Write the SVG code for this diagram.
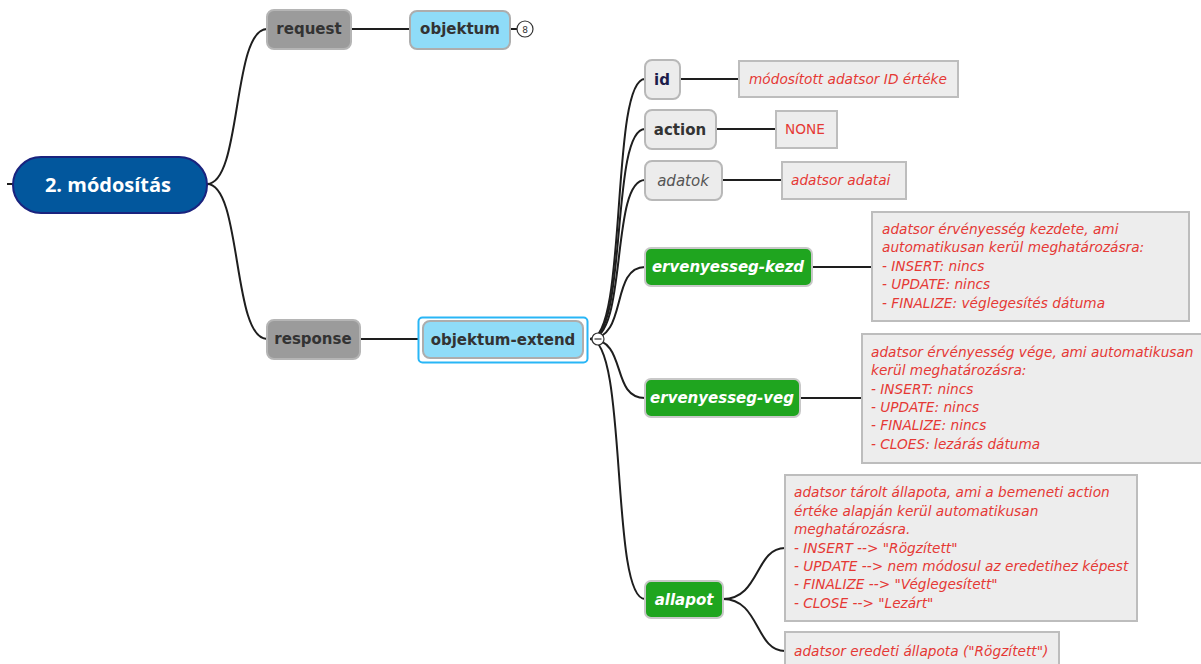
<svg xmlns="http://www.w3.org/2000/svg" width="1201" height="664" viewBox="0 0 1201 664">
<style>
text{font-family:"DejaVu Sans","Liberation Sans",sans-serif}
.con{fill:none;stroke:#1e1e1e;stroke-width:2}
.gray{fill:#9b9b9b;stroke:#b5b5b5;stroke-width:2}
.blue{fill:#8fdcf8;stroke:#adadad;stroke-width:2}
.light{fill:#ececec;stroke:#b8b8b8;stroke-width:2}
.green{fill:#1fa51f;stroke:#c8c8c8;stroke-width:2}
.note{fill:#ededed;stroke:#bdbdbd;stroke-width:2}
.lbl{font-size:15px;font-weight:bold;fill:#333}
.glbl{font-size:15px;font-weight:bold;font-style:italic;fill:#fff}
.nt{font-size:13.7px;font-style:italic;fill:#e53935}
</style>
<rect width="1201" height="664" fill="#fff"/>
<g id="connectors">
<line class="con" x1="7" y1="184" x2="14" y2="184"/>
<path class="con" d="M207,184 C242,184 232,29 267,29"/>
<path class="con" d="M207,184 C242,184 232,339 267,339"/>
<line class="con" x1="351" y1="29" x2="410" y2="29"/>
<line class="con" x1="510" y1="29" x2="517" y2="29"/>
<line class="con" x1="360" y1="339" x2="418" y2="339"/>
<path class="con" d="M590,339 C628,339 610,79 645,79"/>
<path class="con" d="M590,339 C628,339 610,129 645,129"/>
<path class="con" d="M590,339 C628,339 610,180 645,180"/>
<path class="con" d="M590,339 C628,339 610,267 645,267"/>
<path class="con" d="M590,339 C628,339 610,398 645,398"/>
<path class="con" d="M590,339 C628,339 610,599 645,599"/>
<line class="con" x1="680" y1="79" x2="739" y2="79"/>
<line class="con" x1="716" y1="129" x2="776" y2="129"/>
<line class="con" x1="722" y1="180" x2="782" y2="180"/>
<line class="con" x1="812" y1="267" x2="872" y2="267"/>
<line class="con" x1="800" y1="398" x2="862" y2="398"/>
<path class="con" d="M723,599 C760,599 755,548 785,548"/>
<path class="con" d="M723,599 C760,599 755,651 785,651"/>
</g>
<g id="root">
<rect x="13" y="157" width="194" height="56" rx="28" fill="#02579d" stroke="#1a237e" stroke-width="2"/>
<text x="108" y="192" text-anchor="middle" font-size="20" font-weight="bold" fill="#fff" style="font-family:'Open Sans','Liberation Sans',sans-serif">2. módosítás</text>
</g>
<g id="request">
<rect class="gray" x="267" y="10" width="84" height="39" rx="7"/>
<text class="lbl" x="309" y="34" text-anchor="middle">request</text>
</g>
<g id="objektum">
<rect class="blue" x="410" y="11" width="100" height="38" rx="7"/>
<text class="lbl" x="460" y="34" text-anchor="middle">objektum</text>
<circle cx="525" cy="29" r="8" fill="#fff" stroke="#333" stroke-width="1.2"/>
<text x="525" y="32.5" text-anchor="middle" font-size="9" fill="#333">8</text>
</g>
<g id="response">
<rect class="gray" x="267" y="320" width="93" height="39" rx="7"/>
<text class="lbl" x="313" y="344" text-anchor="middle">response</text>
</g>
<g id="objektum-extend">
<rect x="418.5" y="317.5" width="169" height="45" rx="4" fill="none" stroke="#29b6f6" stroke-width="2"/>
<rect class="blue" x="423" y="321" width="160" height="37" rx="7"/>
<text class="lbl" x="503" y="345" text-anchor="middle">objektum-extend</text>
<circle cx="598" cy="339" r="6" fill="#fff" stroke="#333" stroke-width="1.2"/>
<line x1="594.5" y1="339" x2="601.5" y2="339" stroke="#333" stroke-width="1.2"/>
</g>
<g id="id">
<rect class="light" x="645" y="60" width="35" height="39" rx="7"/>
<text x="662" y="85" text-anchor="middle" font-size="15" font-weight="bold" fill="#1c1c4a">id</text>
</g>
<g id="action">
<rect class="light" x="645" y="110" width="71" height="39" rx="7"/>
<text class="lbl" x="680" y="135" text-anchor="middle">action</text>
</g>
<g id="adatok">
<rect class="light" x="645" y="161" width="77" height="39" rx="7"/>
<text x="683" y="186" text-anchor="middle" font-size="15" font-style="italic" fill="#555">adatok</text>
</g>
<g id="ervenyesseg-kezd">
<rect class="green" x="645" y="248" width="167" height="38" rx="6"/>
<text class="glbl" x="728" y="272" text-anchor="middle">ervenyesseg-kezd</text>
</g>
<g id="ervenyesseg-veg">
<rect class="green" x="645" y="379" width="155" height="38" rx="6"/>
<text class="glbl" x="722" y="403" text-anchor="middle">ervenyesseg-veg</text>
</g>
<g id="allapot">
<rect class="green" x="645" y="581" width="78" height="37" rx="6"/>
<text class="glbl" x="684" y="605" text-anchor="middle">allapot</text>
</g>
<g id="note-id">
<rect class="note" x="739" y="61" width="219" height="36"/>
<text class="nt" x="749" y="84">módosított adatsor ID értéke</text>
</g>
<g id="note-action">
<rect class="note" x="776" y="111" width="61" height="37"/>
<text x="785" y="134" font-size="13.7" fill="#e53935">NONE</text>
</g>
<g id="note-adatok">
<rect class="note" x="782" y="162" width="124" height="37"/>
<text class="nt" x="791" y="185">adatsor adatai</text>
</g>
<g id="note-kezd">
<rect class="note" x="872" y="212" width="317" height="109"/>
<text class="nt" x="882" y="234">adatsor érvényesség kezdete, ami</text>
<text class="nt" x="882" y="252">automatikusan kerül meghatározásra:</text>
<text class="nt" x="882" y="271">- INSERT: nincs</text>
<text class="nt" x="882" y="289">- UPDATE: nincs</text>
<text class="nt" x="882" y="308">- FINALIZE: véglegesítés dátuma</text>
</g>
<g id="note-veg">
<rect class="note" x="862" y="334" width="345" height="129"/>
<text class="nt" x="871" y="357">adatsor érvényesség vége, ami automatikusan</text>
<text class="nt" x="871" y="375">kerül meghatározásra:</text>
<text class="nt" x="871" y="394">- INSERT: nincs</text>
<text class="nt" x="871" y="412">- UPDATE: nincs</text>
<text class="nt" x="871" y="430">- FINALIZE: nincs</text>
<text class="nt" x="871" y="449">- CLOES: lezárás dátuma</text>
</g>
<g id="note-allapot">
<rect class="note" x="785" y="475" width="352" height="146"/>
<text class="nt" x="794" y="497">adatsor tárolt állapota, ami a bemeneti action</text>
<text class="nt" x="794" y="516">értéke alapján kerül automatikusan</text>
<text class="nt" x="794" y="534">meghatározásra.</text>
<text class="nt" x="794" y="553">- INSERT --&gt; "Rögzített"</text>
<text class="nt" x="794" y="571">- UPDATE --&gt; nem módosul az eredetihez képest</text>
<text class="nt" x="794" y="589">- FINALIZE --&gt; "Véglegesített"</text>
<text class="nt" x="794" y="608">- CLOSE --&gt; "Lezárt"</text>
</g>
<g id="note-eredeti">
<rect class="note" x="785" y="632" width="274" height="40"/>
<text class="nt" x="794" y="656">adatsor eredeti állapota ("Rögzített")</text>
</g>
</svg>
